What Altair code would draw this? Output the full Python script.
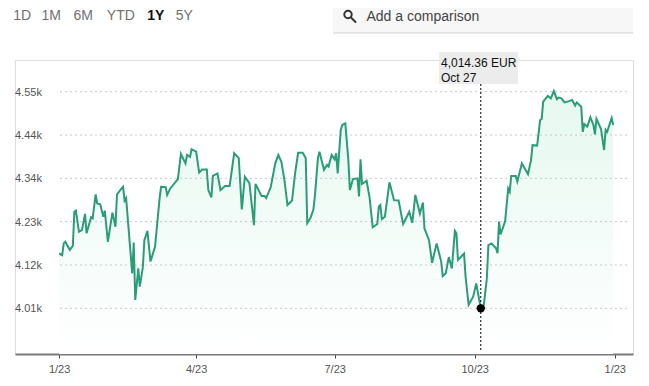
import altair as alt
import pandas as pd

# ---- data ----
dates = [
    "2023-01-23","2023-01-25","2023-01-26","2023-01-27","2023-01-30","2023-02-01","2023-02-02","2023-02-03","2023-02-05","2023-02-07",
    "2023-02-09","2023-02-10","2023-02-13","2023-02-14","2023-02-16","2023-02-17","2023-02-19","2023-02-21","2023-02-22","2023-02-24",
    "2023-02-27","2023-03-01","2023-03-02","2023-03-05","2023-03-06","2023-03-07","2023-03-08","2023-03-12","2023-03-13","2023-03-14",
    "2023-03-16","2023-03-17","2023-03-19","2023-03-20","2023-03-22","2023-03-24","2023-03-27","2023-03-30","2023-03-31","2023-04-03",
    "2023-04-04","2023-04-06","2023-04-11","2023-04-13","2023-04-16","2023-04-17","2023-04-19","2023-04-20","2023-04-23","2023-04-25",
    "2023-04-27","2023-04-30","2023-05-01","2023-05-03","2023-05-04","2023-05-07","2023-05-09","2023-05-12","2023-05-15","2023-05-18",
    "2023-05-21","2023-05-23","2023-05-25","2023-05-28","2023-05-31","2023-06-01","2023-06-05","2023-06-07","2023-06-08","2023-06-11",
    "2023-06-14","2023-06-16","2023-06-18","2023-06-20","2023-06-22","2023-06-25","2023-06-27","2023-06-29","2023-07-02","2023-07-04",
    "2023-07-05","2023-07-07","2023-07-09","2023-07-10","2023-07-12","2023-07-13","2023-07-16","2023-07-18","2023-07-19","2023-07-21",
    "2023-07-23","2023-07-24","2023-07-25","2023-07-27","2023-07-28","2023-07-30","2023-08-01","2023-08-02","2023-08-04","2023-08-07",
    "2023-08-08","2023-08-09","2023-08-10","2023-08-13","2023-08-15","2023-08-17","2023-08-20","2023-08-21","2023-08-22","2023-08-23",
    "2023-08-25","2023-08-28","2023-08-31","2023-09-03","2023-09-06","2023-09-10","2023-09-12","2023-09-14","2023-09-17","2023-09-19",
    "2023-09-20","2023-09-23","2023-09-25","2023-09-28","2023-10-01","2023-10-02","2023-10-04","2023-10-06","2023-10-08","2023-10-10",
    "2023-10-11","2023-10-12","2023-10-16","2023-10-17","2023-10-19","2023-10-22","2023-10-24","2023-10-27","2023-10-29","2023-10-31",
    "2023-11-01","2023-11-03","2023-11-06","2023-11-07","2023-11-08","2023-11-09","2023-11-12","2023-11-14","2023-11-15","2023-11-16",
    "2023-11-19","2023-11-20","2023-11-23","2023-11-27","2023-11-29","2023-11-30","2023-12-03","2023-12-05","2023-12-06","2023-12-07",
    "2023-12-10","2023-12-12","2023-12-14","2023-12-16","2023-12-17","2023-12-19","2023-12-21","2023-12-24","2023-12-26","2023-12-28",
    "2023-12-29","2024-01-01","2024-01-02","2024-01-03","2024-01-05","2024-01-07","2024-01-09","2024-01-10","2024-01-11","2024-01-14",
    "2024-01-16","2024-01-17","2024-01-18","2024-01-21","2024-01-22",
]
values = [
    4150, 4146, 4175, 4179, 4159, 4169, 4253, 4256, 4204, 4208,
    4248, 4200, 4240, 4237, 4296, 4274, 4272, 4241, 4256, 4179,
    4251, 4216, 4296, 4311, 4315, 4281, 4287, 4101, 4177, 4035,
    4113, 4068, 4117, 4183, 4206, 4130, 4167, 4287, 4315, 4314,
    4295, 4311, 4334, 4396, 4373, 4394, 4389, 4408, 4402, 4350,
    4358, 4358, 4307, 4289, 4342, 4348, 4307, 4317, 4317, 4398,
    4386, 4259, 4340, 4324, 4220, 4322, 4292, 4292, 4287, 4314,
    4373, 4394, 4377, 4332, 4270, 4281, 4348, 4399, 4399, 4386,
    4225, 4237, 4258, 4291, 4386, 4402, 4357, 4369, 4365, 4394,
    4383, 4398, 4348, 4456, 4468, 4472, 4381, 4307, 4334, 4336,
    4291, 4383, 4322, 4330, 4287, 4215, 4223, 4266, 4270, 4235,
    4241, 4326, 4282, 4281, 4223, 4253, 4226, 4295, 4249, 4276,
    4212, 4183, 4127, 4175, 4130, 4094, 4101, 4141, 4113, 4206,
    4200, 4134, 4150, 4093, 4023, 4043, 4076, 4014.36, 4023, 4089,
    4171, 4175, 4163, 4151, 4229, 4197, 4230, 4311, 4303, 4342,
    4342, 4328, 4373, 4346, 4381, 4418, 4417, 4480, 4483, 4526,
    4540, 4534, 4552, 4532, 4536, 4534, 4524, 4527, 4530, 4516,
    4524, 4513, 4451, 4470, 4464, 4487, 4468, 4445, 4483, 4458,
    4406, 4456, 4451, 4485, 4468,
]
y_tick_values = [4014.36, 4121.56, 4228.76, 4335.96, 4443.16, 4550.36]
y_tick_labels = ["4.01k", "4.12k", "4.23k", "4.34k", "4.44k", "4.55k"]
x_tick_dates = [(2023, 1, 23), (2023, 4, 23), (2023, 7, 23), (2023, 10, 23), (2024, 1, 23)]
period_buttons = ["1D", "1M", "6M", "YTD", "1Y", "5Y"]
selected_period = "1Y"
hover_date = "2023-10-27"
hover_value = 4014.36
hover_label = "4,014.36 EUR"
hover_date_label = "Oct 27"
search_placeholder = "Add a comparison"

FONT = "Liberation Sans"
GREEN = "#2a9d76"
W, H = 618, 294

df = pd.DataFrame({"date": dates, "value": values})
ticks_df = pd.DataFrame({"v": y_tick_values, "label": y_tick_labels})
hover_df = pd.DataFrame({"date": [hover_date], "value": [hover_value]})
one = pd.DataFrame({"a": [0]})

xscale = alt.Scale(
    type="utc",
    domain=[alt.DateTime(year=2022, month=12, date=25, utc=True),
            alt.DateTime(year=2024, month=2, date=4, utc=True)],
)
yscale = alt.Scale(domain=[3901.3, 4628.8], zero=False, nice=False)

x_axis = alt.Axis(
    values=[alt.DateTime(year=y, month=m, date=d, utc=True) for (y, m, d) in x_tick_dates],
    labelExpr="(utcmonth(datum.value)+1) + '/' + utcdate(datum.value)",
    title=None, grid=False,
    domainColor="#7a7a7a", domainWidth=2,
    tickColor="#444", tickSize=4, tickWidth=1,
    labelFont=FONT, labelFontSize=11, labelColor="#555",
    labelBaseline="middle", labelPadding=11, labelFlush=False,
)

X = alt.X("date:T", scale=xscale, axis=x_axis)
Y = alt.Y("value:Q", scale=yscale, axis=None, stack=None)

area = alt.Chart(df).mark_area(
    color=alt.Gradient(
        gradient="linear",
        stops=[alt.GradientStop(color="#e6f8f0", offset=0),
               alt.GradientStop(color="#ffffff", offset=1)],
        x1=1, x2=1, y1=0, y2=1,
    )
).encode(x=X, y=Y, y2=alt.value(H))

grid = alt.Chart(ticks_df).mark_rule(color="#c8c8c8", strokeDash=[2, 3], strokeWidth=1).encode(
    y=alt.Y("v:Q", scale=yscale, axis=None), x=alt.value(45), x2=alt.value(615)
)
ylabels = alt.Chart(ticks_df).mark_text(
    align="left", baseline="middle", font=FONT, fontSize=11, color="#555", dy=1
).encode(y=alt.Y("v:Q", scale=yscale, axis=None), x=alt.value(0), text="label:N")

line = alt.Chart(df).mark_line(color=GREEN, strokeWidth=2).encode(x=X, y=Y)

cross = alt.Chart(hover_df).mark_rule(color="#000", strokeDash=[2, 2], strokeWidth=1).encode(
    x=alt.X("date:T", scale=xscale), y=alt.value(24), y2=alt.value(291)
)
dot = alt.Chart(hover_df).mark_point(filled=True, color="#000", size=70, opacity=1).encode(
    x=alt.X("date:T", scale=xscale), y=Y
)

tip_box = alt.Chart(one).mark_rect(color="#ececec").encode(
    x=alt.value(424), x2=alt.value(503), y=alt.value(-8), y2=alt.value(24)
)
tip_t1 = alt.Chart(one).mark_text(align="left", baseline="middle", font=FONT, fontSize=12, color="#111").encode(
    x=alt.value(426), y=alt.value(2.5), text=alt.value(hover_label)
)
tip_t2 = alt.Chart(one).mark_text(align="left", baseline="middle", font=FONT, fontSize=12, color="#111").encode(
    x=alt.value(426), y=alt.value(18), text=alt.value(hover_date_label)
)

# top bar UI
search_bg = alt.Chart(one).mark_rect(color="#f7f7f7").encode(
    x=alt.value(318), x2=alt.value(618), y=alt.value(-60), y2=alt.value(-27)
)
search_border = alt.Chart(one).mark_rule(color="#cfcfcf", strokeWidth=1).encode(
    x=alt.value(318), x2=alt.value(618), y=alt.value(-27)
)
mag_circle = alt.Chart(one).mark_point(shape="circle", filled=False, size=55, strokeWidth=2, color="#333", opacity=1).encode(
    x=alt.value(333), y=alt.value(-45.5)
)
mag_handle = alt.Chart(one).mark_rule(color="#333", strokeWidth=2, strokeCap="round").encode(
    x=alt.value(336.5), x2=alt.value(340.5), y=alt.value(-42), y2=alt.value(-38)
)
search_text = alt.Chart(one).mark_text(align="left", baseline="middle", font=FONT, fontSize=14, color="#444").encode(
    x=alt.value(351.5), y=alt.value(-43), text=alt.value(search_placeholder)
)

btn_x = [7.2, 36.3, 68.3, 105.8, 140.8, 169.3]
buttons = []
for lab, bx in zip(period_buttons, btn_x):
    sel = lab == selected_period
    buttons.append(
        alt.Chart(one).mark_text(
            align="center", baseline="middle", font=FONT, fontSize=14,
            color="#111" if sel else "#707070", fontWeight="bold" if sel else "normal",
        ).encode(x=alt.value(bx), y=alt.value(-44), text=alt.value(lab))
    )

chart = alt.layer(
    search_bg, search_border, mag_circle, mag_handle, search_text, *buttons,
    area, grid, ylabels, line, tip_box, tip_t1, tip_t2, cross, dot,
).properties(
    width=W, height=H,
    autosize=alt.AutoSizeParams(type="none"),
    padding={"left": 7, "top": 52, "right": 8, "bottom": 22},
).configure_view(stroke=None).configure(background="#ffffff")

chart.save("out.html", embed_options={"renderer": "svg", "actions": False})
